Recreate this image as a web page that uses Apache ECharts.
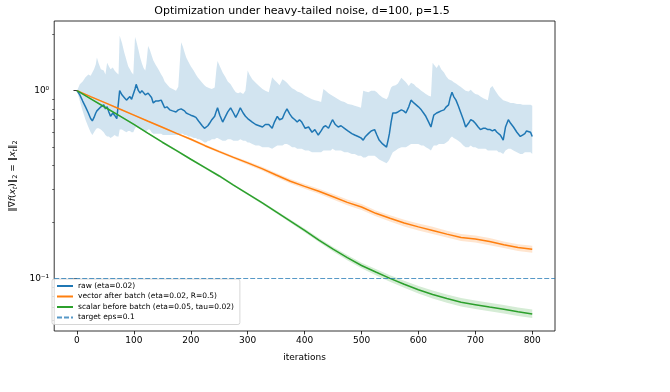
<!DOCTYPE html>
<html>
<head>
<meta charset="utf-8">
<script src="https://cdn.jsdelivr.net/npm/echarts@6/dist/echarts.min.js"></script>
<style>
  html, body { margin: 0; padding: 0; background: #fff; }
  #chart { width: 670px; height: 392px; }
</style>
</head>
<body>
<div id="chart"></div>
<script>
// x tick labels and y decade labels
const xTicks = [0, 100, 200, 300, 400, 500, 600, 700, 800]
const yMajor = [0.1, 1]
const yMinor = [0.06, 0.07, 0.08, 0.09, 0.2, 0.3, 0.4, 0.5, 0.6, 0.7, 0.8, 0.9, 2]

// raw (eta=0.02): median curve with its band
const rawIters = [
  0, 5, 10, 15, 20, 24, 27, 30, 33, 35,
  38, 42, 47, 50, 53, 56, 59, 63, 66, 70,
  73, 75, 79, 83, 87, 90, 93, 96, 99, 102,
  104, 108, 111, 114, 117, 120, 122, 125, 128, 131,
  134, 138, 143, 148, 151, 154, 158, 163, 168, 174,
  178, 183, 186, 189, 192, 196, 200, 205, 209, 212,
  215, 220, 224, 227, 230, 233, 237, 242, 245, 247,
  251, 256, 261, 265, 270, 275, 279, 283, 287, 292,
  296, 300, 303, 308, 314, 320, 326, 331, 337, 343,
  347, 352, 356, 361, 365, 369, 374, 378, 383, 387,
  391, 395, 401, 407, 413, 418, 424, 429, 433, 437,
  442, 446, 449, 454, 459, 464, 470, 476, 483, 488,
  494, 499, 503, 507, 512, 517, 523, 527, 531, 537,
  544, 547, 549, 552, 555, 560, 564, 570, 574, 578,
  583, 587, 592, 596, 600, 605, 609, 613, 618, 622,
  625, 627, 632, 636, 640, 645, 649, 653, 656, 659,
  662, 666, 670, 674, 679, 683, 688, 692, 696, 700,
  705, 709, 714, 718, 722, 726, 730, 734, 738, 741,
  744, 749, 753, 758, 762, 767, 773, 779, 783, 787,
  790, 793, 797, 800
]
const rawMedian = [
  1.00, 0.95, 0.88, 0.82, 0.76, 0.71, 0.69, 0.72, 0.76, 0.78,
  0.79, 0.82, 0.84, 0.80, 0.82, 0.77, 0.73, 0.76, 0.74, 0.71,
  0.70, 1.00, 0.95, 0.92, 0.89, 0.91, 0.93, 0.90, 0.89, 1.02,
  1.08, 1.00, 0.97, 1.00, 0.99, 0.95, 0.93, 0.97, 0.99, 0.92,
  0.86, 0.88, 0.88, 0.89, 0.85, 0.81, 0.82, 0.79, 0.78, 0.77,
  0.79, 0.80, 0.81, 0.78, 0.76, 0.75, 0.74, 0.73, 0.72, 0.70,
  0.68, 0.65, 0.63, 0.62, 0.65, 0.67, 0.70, 0.73, 0.78, 0.81,
  0.74, 0.68, 0.73, 0.77, 0.81, 0.76, 0.72, 0.76, 0.81, 0.76,
  0.73, 0.71, 0.70, 0.68, 0.66, 0.65, 0.64, 0.66, 0.66, 0.63,
  0.68, 0.73, 0.70, 0.71, 0.76, 0.80, 0.75, 0.72, 0.70, 0.68,
  0.70, 0.68, 0.63, 0.64, 0.60, 0.62, 0.58, 0.61, 0.64, 0.65,
  0.63, 0.67, 0.70, 0.66, 0.64, 0.65, 0.63, 0.61, 0.59, 0.58,
  0.57, 0.56, 0.545, 0.57, 0.59, 0.61, 0.62, 0.58, 0.545, 0.52,
  0.50, 0.55, 0.59, 0.68, 0.76, 0.76, 0.77, 0.79, 0.78, 0.76,
  0.82, 0.89, 0.86, 0.84, 0.82, 0.79, 0.76, 0.73, 0.68, 0.64,
  0.70, 0.74, 0.76, 0.77, 0.78, 0.79, 0.82, 0.84, 0.92, 0.98,
  0.93, 0.89, 0.83, 0.77, 0.70, 0.64, 0.67, 0.70, 0.69, 0.67,
  0.64, 0.62, 0.63, 0.63, 0.62, 0.62, 0.61, 0.62, 0.60, 0.59,
  0.58, 0.545, 0.64, 0.70, 0.67, 0.64, 0.60, 0.57, 0.58, 0.59,
  0.61, 0.62, 0.60, 0.57
]
const rawLow = [
  1.00, 0.88, 0.78, 0.70, 0.64, 0.60, 0.58, 0.60, 0.62, 0.63,
  0.63, 0.62, 0.60, 0.58, 0.57, 0.57, 0.56, 0.57, 0.58, 0.57,
  0.57, 0.62, 0.62, 0.61, 0.60, 0.61, 0.61, 0.60, 0.60, 0.63,
  0.64, 0.63, 0.62, 0.62, 0.61, 0.61, 0.61, 0.62, 0.62, 0.60,
  0.59, 0.59, 0.59, 0.59, 0.58, 0.58, 0.58, 0.58, 0.58, 0.58,
  0.58, 0.59, 0.59, 0.58, 0.58, 0.57, 0.57, 0.56, 0.56, 0.55,
  0.55, 0.54, 0.53, 0.53, 0.54, 0.54, 0.55, 0.55, 0.56, 0.56,
  0.55, 0.54, 0.54, 0.55, 0.55, 0.54, 0.54, 0.54, 0.55, 0.54,
  0.54, 0.53, 0.53, 0.52, 0.51, 0.51, 0.50, 0.50, 0.50, 0.49,
  0.50, 0.51, 0.51, 0.51, 0.52, 0.52, 0.51, 0.50, 0.50, 0.49,
  0.49, 0.49, 0.48, 0.48, 0.47, 0.47, 0.47, 0.47, 0.48, 0.48,
  0.48, 0.48, 0.49, 0.48, 0.48, 0.48, 0.47, 0.47, 0.46, 0.46,
  0.45, 0.45, 0.44, 0.44, 0.45, 0.45, 0.45, 0.44, 0.43, 0.42,
  0.41, 0.42, 0.43, 0.45, 0.47, 0.48, 0.49, 0.50, 0.50, 0.50,
  0.51, 0.52, 0.52, 0.52, 0.52, 0.51, 0.51, 0.50, 0.49, 0.48,
  0.50, 0.51, 0.51, 0.52, 0.52, 0.52, 0.53, 0.54, 0.56, 0.57,
  0.56, 0.55, 0.54, 0.53, 0.51, 0.50, 0.50, 0.51, 0.50, 0.50,
  0.49, 0.49, 0.49, 0.49, 0.48, 0.48, 0.48, 0.48, 0.48, 0.47,
  0.47, 0.46, 0.48, 0.49, 0.49, 0.48, 0.47, 0.46, 0.46, 0.47,
  0.47, 0.47, 0.47, 0.46
]
const rawHigh = [
  1.00, 1.08, 1.12, 1.18, 1.22, 1.20, 1.25, 1.30, 1.38, 1.50,
  1.40, 1.30, 1.28, 1.22, 1.41, 1.35, 1.30, 1.33, 1.28, 1.24,
  1.22, 1.96, 1.80, 1.60, 1.45, 1.35, 1.30, 1.25, 1.22, 1.93,
  1.85, 1.65, 1.50, 1.40, 1.32, 1.28, 1.40, 1.73, 1.65, 1.55,
  1.45, 1.38, 1.30, 1.22, 1.18, 1.12, 1.08, 1.04, 1.02, 1.00,
  1.05, 1.81, 1.72, 1.60, 1.50, 1.42, 1.35, 1.28, 1.22, 1.18,
  1.15, 1.10, 1.07, 1.05, 1.04, 1.03, 1.02, 1.04, 1.30, 1.44,
  1.35, 1.25, 1.18, 1.12, 1.08, 1.02, 0.98, 0.97, 0.98, 0.96,
  1.00, 1.28, 1.22, 1.15, 1.10, 1.06, 1.02, 1.00, 0.98, 1.18,
  1.14, 1.10, 1.07, 1.15, 1.13, 1.10, 1.06, 1.03, 1.01, 0.99,
  0.98, 0.97, 0.94, 0.92, 0.90, 0.89, 0.88, 0.87, 1.02, 1.00,
  0.97, 0.95, 0.94, 0.92, 0.90, 0.88, 0.87, 0.85, 0.84, 0.83,
  0.82, 0.81, 1.00, 0.99, 0.98, 1.00, 1.00, 0.98, 0.95, 0.92,
  0.90, 0.93, 0.98, 1.04, 1.06, 1.07, 1.09, 1.17, 1.14, 1.11,
  1.06, 1.10, 1.08, 1.05, 1.03, 1.00, 0.98, 0.96, 0.94, 0.93,
  1.41, 1.38, 1.32, 1.38, 1.30, 1.25, 1.19, 1.15, 1.14, 1.13,
  1.11, 1.09, 1.07, 1.05, 1.02, 1.00, 0.99, 1.01, 0.98, 0.96,
  0.95, 0.93, 0.91, 0.90, 0.89, 1.03, 1.06, 1.01, 0.97, 0.94,
  0.92, 0.89, 0.88, 0.87, 0.86, 0.86, 0.85, 0.85, 0.84, 0.84,
  0.84, 0.84, 0.84, 0.83
]

// vector after batch / scalar before batch, every 25 iterations
const smoothIters = [
  0, 25, 50, 75, 100, 125, 150, 175, 200, 225, 250, 275, 300, 325, 350, 375, 400,
  425, 450, 475, 500, 525, 550, 575, 600, 625, 650, 675, 700, 725, 750, 775, 800
]
const vecMedian = [
  1.000, 0.927, 0.861, 0.798, 0.741, 0.687, 0.638, 0.592, 0.551, 0.509, 0.473, 0.441, 0.412, 0.384, 0.355, 0.329, 0.309,
  0.291, 0.272, 0.254, 0.240, 0.222, 0.209, 0.197, 0.188, 0.180, 0.172, 0.165, 0.162, 0.157, 0.151, 0.146, 0.143
]
const vecLow = [
  1.000, 0.920, 0.854, 0.791, 0.734, 0.680, 0.631, 0.585, 0.543, 0.501, 0.465, 0.433, 0.403, 0.375, 0.346, 0.320, 0.300,
  0.282, 0.263, 0.245, 0.231, 0.214, 0.201, 0.189, 0.180, 0.172, 0.165, 0.158, 0.155, 0.150, 0.145, 0.140, 0.137
]
const vecHigh = [
  1.000, 0.934, 0.868, 0.805, 0.748, 0.694, 0.645, 0.599, 0.559, 0.517, 0.481, 0.449, 0.421, 0.393, 0.364, 0.338, 0.318,
  0.300, 0.281, 0.263, 0.249, 0.230, 0.217, 0.205, 0.196, 0.188, 0.179, 0.172, 0.169, 0.164, 0.157, 0.152, 0.149
]
const sclMedian = [
  1.000, 0.902, 0.813, 0.733, 0.661, 0.592, 0.531, 0.479, 0.431, 0.389, 0.351, 0.314, 0.282, 0.253, 0.226, 0.202, 0.180,
  0.160, 0.143, 0.129, 0.117, 0.108, 0.100, 0.093, 0.087, 0.082, 0.078, 0.0746, 0.0724, 0.0703, 0.0684, 0.0664, 0.0646
]
const sclLow = [
  1.000, 0.893, 0.805, 0.726, 0.654, 0.586, 0.525, 0.473, 0.426, 0.384, 0.346, 0.310, 0.278, 0.249, 0.222, 0.198, 0.176,
  0.156, 0.139, 0.125, 0.113, 0.104, 0.096, 0.089, 0.083, 0.078, 0.074, 0.0708, 0.0687, 0.0667, 0.0649, 0.0630, 0.0614
]
const sclHigh = [
  1.000, 0.911, 0.821, 0.740, 0.668, 0.598, 0.537, 0.485, 0.436, 0.394, 0.356, 0.318, 0.286, 0.257, 0.230, 0.206, 0.184,
  0.164, 0.147, 0.133, 0.121, 0.112, 0.104, 0.097, 0.091, 0.086, 0.082, 0.0785, 0.0762, 0.0740, 0.0720, 0.0700, 0.0682
]
const targetEps = 0.1

const FONT = 'DejaVu Sans'
const C0 = '#1f77b4'
const C1 = '#ff7f0e'
const C2 = '#2ca02c'

const pairs = (xs, ys) => xs.map((x, i) => [x, ys[i]])

// shaded band: one polygon, upper edge forward then lower edge back
const band = (id, xs, lo, hi, color) => ({
  name: id, type: 'custom', silent: true, clip: true,
  data: xs.map((x, i) => [x, lo[i], hi[i]]),
  encode: { x: 0, y: [1, 2] },
  renderItem: (params, api) => {
    if (params.dataIndex !== 0) return null
    const top = xs.map((x, i) => api.coord([x, hi[i]]))
    const bottom = xs.map((x, i) => api.coord([x, lo[i]])).reverse()
    return {
      type: 'polygon', silent: true,
      shape: { points: top.concat(bottom) },
      style: { fill: color, stroke: null }
    }
  }
})

const line = (name, xs, ys, color) => ({
  name, type: 'line', data: pairs(xs, ys), symbol: 'none',
  lineStyle: { color, width: 1.5 }, itemStyle: { color }
})

const chart = echarts.init(document.getElementById('chart'))

const option = {
  animation: false,
  graphic: [{
    type: 'text', x: 302, y: 11,
    style: {
      text: 'Optimization under heavy-tailed noise, d=100, p=1.5',
      fill: '#000', font: '11px "DejaVu Sans"', align: 'center', verticalAlign: 'middle'
    }
  }],
  grid: {
    left: 49, right: 115, top: 21, bottom: 61,
    show: true, borderColor: '#000', borderWidth: 0.8, backgroundColor: 'transparent'
  },
  legend: {
    data: ['raw (eta=0.02)', 'vector after batch (eta=0.02, R=0.5)', 'scalar before batch (eta=0.05, tau=0.02)', 'target eps=0.1'],
    orient: 'vertical',
    left: 52, top: 279,
    padding: [3, 6, 3, 4],
    itemGap: 2.5, itemWidth: 16, itemHeight: 9,
    itemStyle: { opacity: 0 },
    backgroundColor: 'rgba(255,255,255,0.8)',
    borderColor: '#cccccc', borderWidth: 0.8, borderRadius: 2,
    textStyle: { fontFamily: FONT, fontSize: 7.5, color: '#000' }
  },
  xAxis: {
    type: 'value', min: -40, max: 840,
    name: 'iterations', nameLocation: 'middle', nameGap: 22,
    nameTextStyle: { fontFamily: FONT, fontSize: 9, color: '#000' },
    axisLine: { show: false },
    axisTick: { customValues: xTicks, length: 3.5, lineStyle: { color: '#000', width: 0.8 } },
    axisLabel: { customValues: xTicks, fontFamily: FONT, fontSize: 9, color: '#000', margin: 5 },
    splitLine: { show: false }
  },
  yAxis: [
    {
      type: 'log', min: 0.0524, max: 2.35, logBase: 10,
      name: '‖∇{i|f}({i|x}{s|t})‖{n|2} = ‖{i|x}{s|t}‖{n|2}',
      nameLocation: 'middle', nameGap: 32,
      nameTextStyle: {
        fontFamily: FONT, fontSize: 9, color: '#000',
        rich: {
          i: { fontFamily: FONT, fontSize: 9, fontStyle: 'italic', color: '#000' },
          s: { fontFamily: FONT, fontSize: 6.5, fontStyle: 'italic', color: '#000', verticalAlign: 'bottom', lineHeight: 12 },
          n: { fontFamily: FONT, fontSize: 6.5, color: '#000', verticalAlign: 'bottom', lineHeight: 12 }
        }
      },
      axisLine: { show: false },
      axisTick: { customValues: yMajor, length: 3.5, lineStyle: { color: '#000', width: 0.8 } },
      axisLabel: {
        customValues: yMajor, fontFamily: FONT, fontSize: 9, color: '#000', margin: 5,
        formatter: v => (v < 0.5 ? '10⁻¹' : '10⁰')
      },
      splitLine: { show: false }
    },
    {
      type: 'log', min: 0.0524, max: 2.35, logBase: 10, position: 'left', offset: 0,
      axisLine: { show: false },
      axisTick: { customValues: yMinor, length: 2, lineStyle: { color: '#000', width: 0.6 } },
      axisLabel: { show: false },
      splitLine: { show: false }
    }
  ],
  series: [
    band('rawband', rawIters, rawLow, rawHigh, 'rgba(31,119,180,0.2)'),
    line('raw (eta=0.02)', rawIters, rawMedian, C0),
    band('vecband', smoothIters, vecLow, vecHigh, 'rgba(255,127,14,0.2)'),
    line('vector after batch (eta=0.02, R=0.5)', smoothIters, vecMedian, C1),
    band('sclband', smoothIters, sclLow, sclHigh, 'rgba(44,160,44,0.2)'),
    line('scalar before batch (eta=0.05, tau=0.02)', smoothIters, sclMedian, C2),
    {
      name: 'target eps=0.1', type: 'line', data: [], symbol: 'none',
      lineStyle: { color: C0, width: 1, type: [5, 2], opacity: 0.75 },
      itemStyle: { color: C0 },
      markLine: {
        silent: true, symbol: 'none', label: { show: false },
        lineStyle: { color: C0, width: 1, type: [5, 2], opacity: 0.75 },
        data: [{ yAxis: targetEps }]
      }
    }
  ]
}

chart.setOption(option)
</script>
</body>
</html>
